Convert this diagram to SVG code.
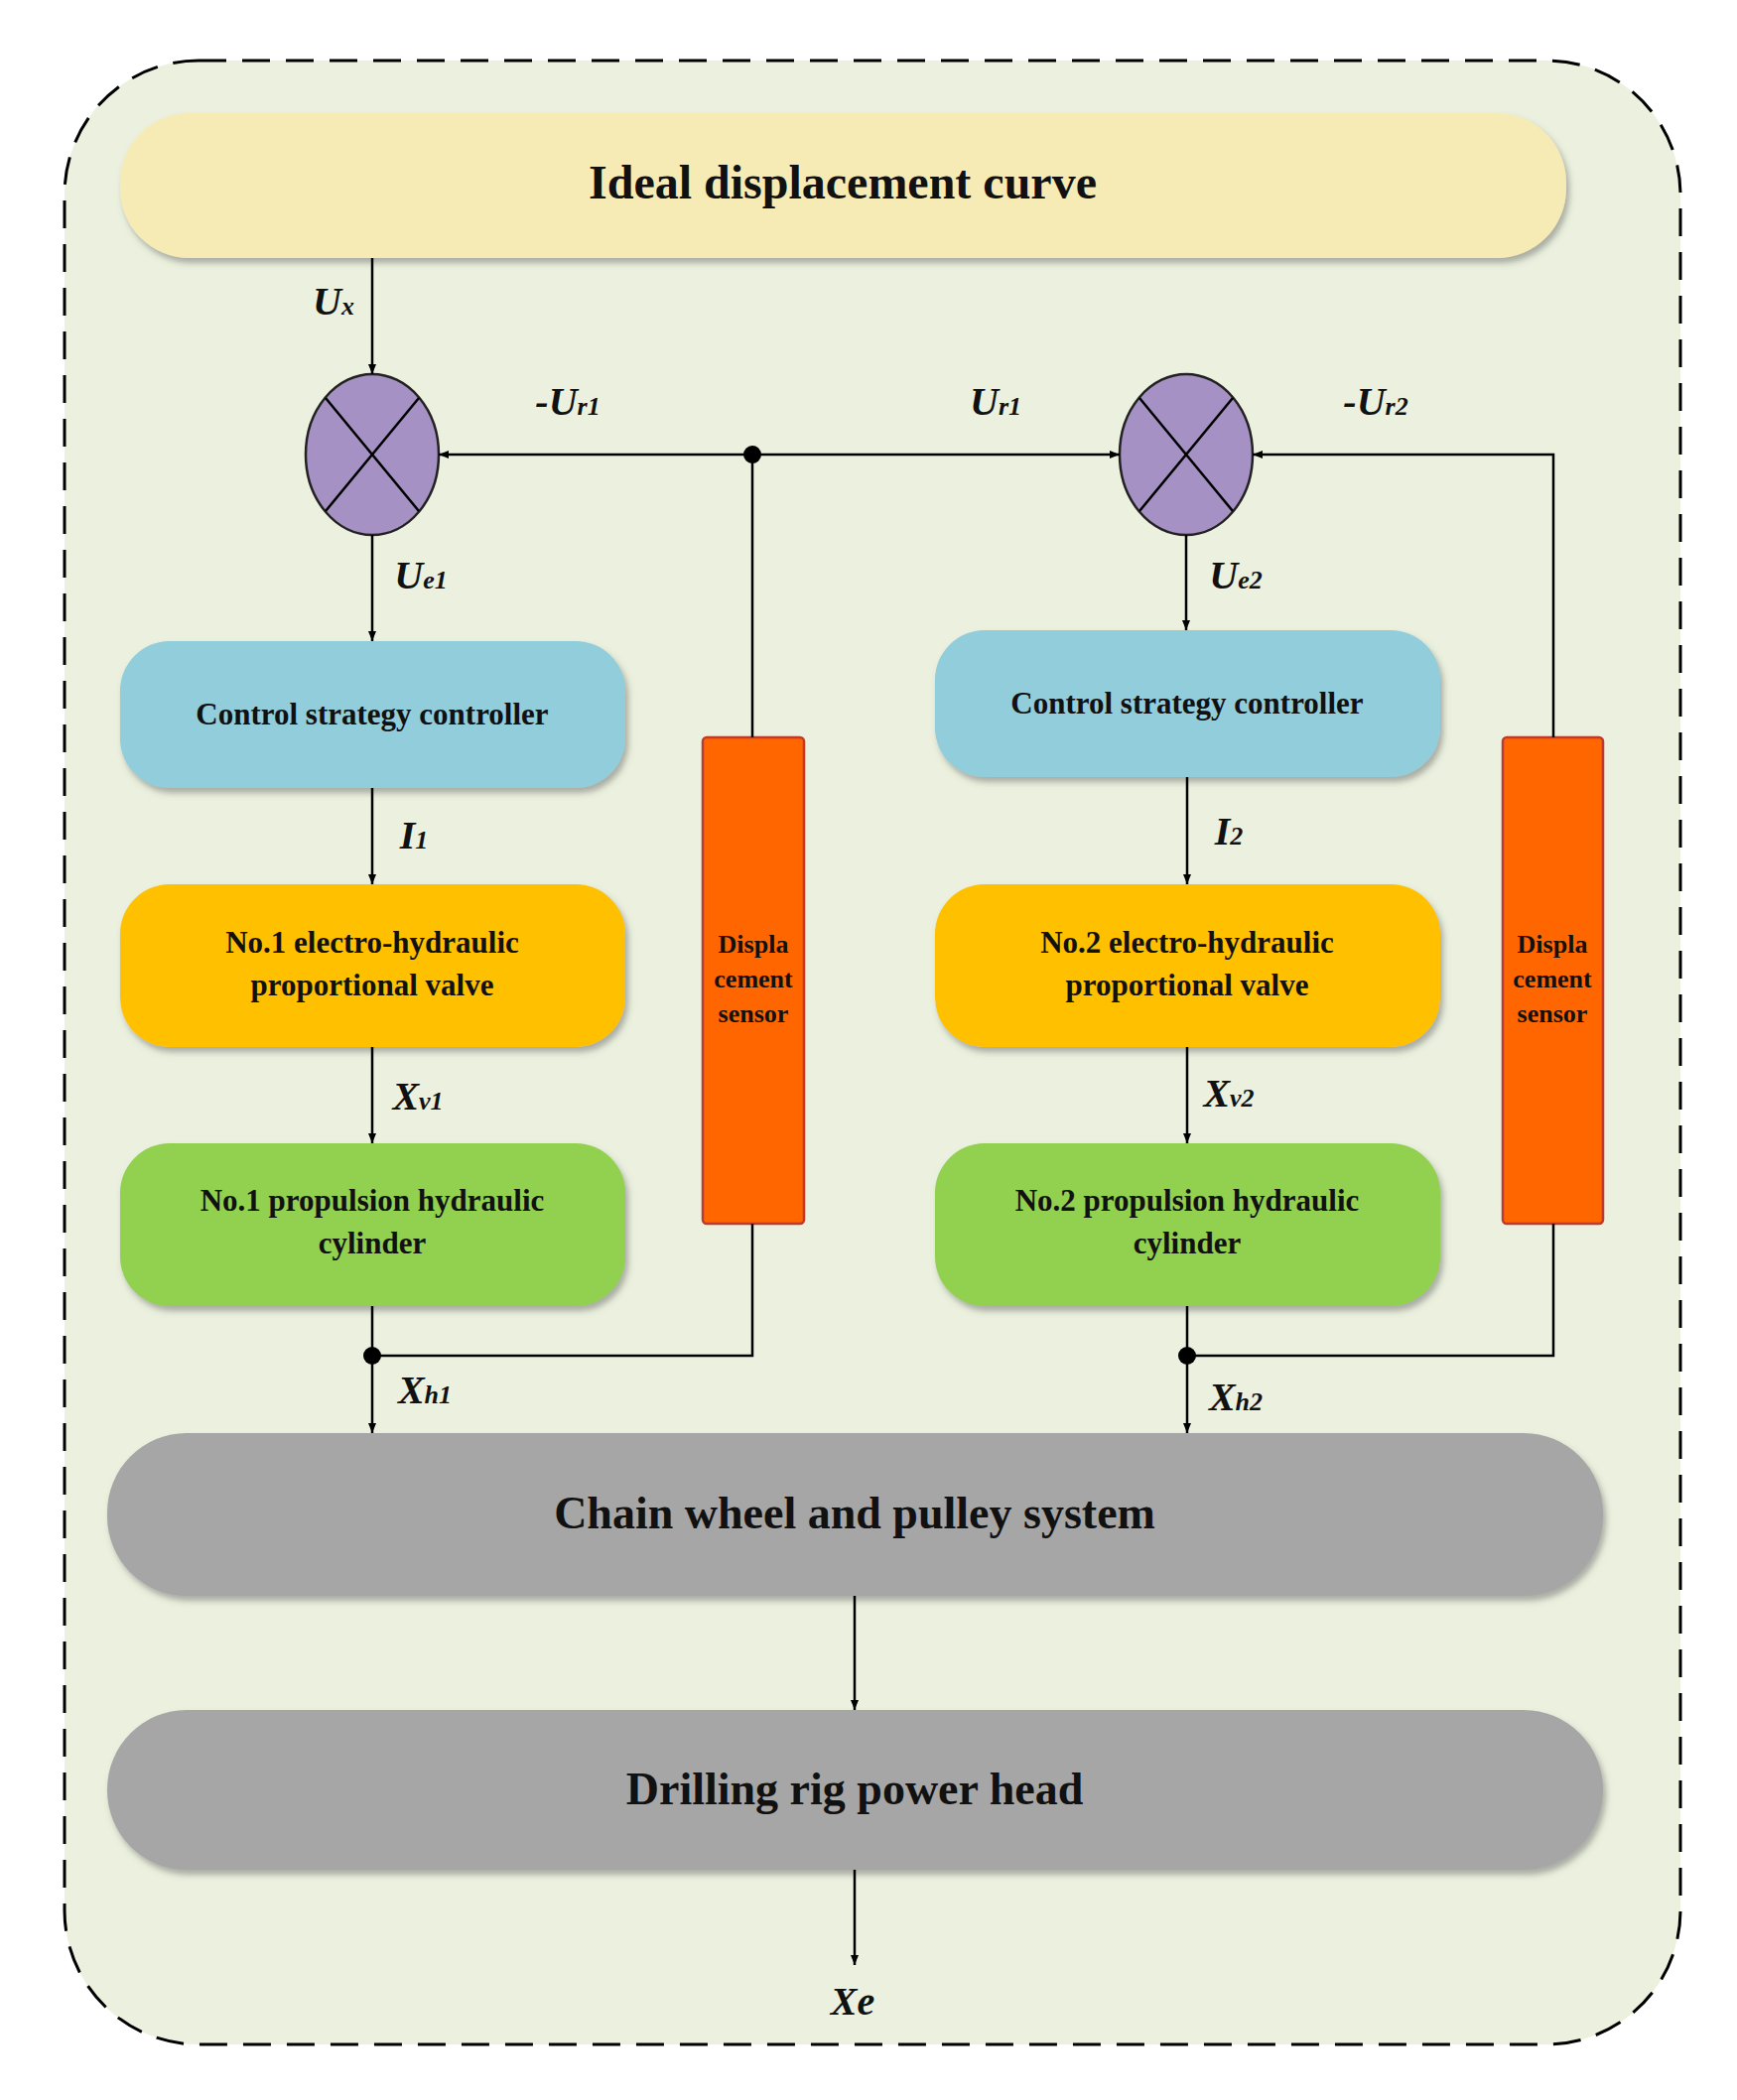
<svg xmlns="http://www.w3.org/2000/svg" width="1750" height="2116" viewBox="0 0 1750 2116">
<defs>
<filter id="sh" x="-5%" y="-10%" width="110%" height="130%"><feDropShadow dx="3" dy="5" stdDeviation="3" flood-color="#666" flood-opacity="0.5"/></filter>
<marker id="ar" viewBox="0 0 10 10" refX="10" refY="5" markerWidth="10" markerHeight="14" markerUnits="userSpaceOnUse" orient="auto"><path d="M0,1 L10,5 L0,9 Z" fill="#000"/></marker>
</defs>
<style>
text{font-family:"Liberation Serif","Times New Roman",serif;font-weight:bold;fill:#111;text-anchor:middle}
.box{filter:url(#sh)}
.ln{stroke:#000;stroke-width:2.5;fill:none}
.lb{font-style:italic;font-size:40px}
.sb{font-size:26px}
.bt{font-size:31px}
</style>
<rect width="1750" height="2116" fill="#fff"/>
<rect x="65" y="61" width="1628" height="1999" rx="135" fill="#EBF1DE" stroke="#000" stroke-width="3" stroke-dasharray="28,16"/>
<g id="ideal"><rect class="box" x="121" y="114" width="1457" height="146" rx="70" fill="#F7EBB5"/><text x="849" y="200" font-size="48">Ideal displacement curve</text></g>
<g id="sum1"><ellipse cx="375" cy="458" rx="67" ry="81" fill="#A591C4" stroke="#222" stroke-width="2.5"/><path class="ln" d="M328,401 L422,515 M422,401 L328,515"/></g>
<g id="sum2"><ellipse cx="1195" cy="458" rx="67" ry="81" fill="#A591C4" stroke="#222" stroke-width="2.5"/><path class="ln" d="M1148,401 L1242,515 M1242,401 L1148,515"/></g>
<g id="ctrl1"><rect class="box" x="121" y="646" width="509" height="148" rx="50" fill="#92CDDC"/><text class="bt" x="375" y="730">Control strategy controller</text></g>
<g id="ctrl2"><rect class="box" x="942" y="635" width="509" height="148" rx="50" fill="#92CDDC"/><text class="bt" x="1196" y="719">Control strategy controller</text></g>
<g id="valve1"><rect class="box" x="121" y="891" width="509" height="164" rx="50" fill="#FFC000"/><text class="bt" x="375" y="960">No.1 electro-hydraulic</text><text class="bt" x="375" y="1003">proportional valve</text></g>
<g id="valve2"><rect class="box" x="942" y="891" width="509" height="164" rx="50" fill="#FFC000"/><text class="bt" x="1196" y="960">No.2 electro-hydraulic</text><text class="bt" x="1196" y="1003">proportional valve</text></g>
<g id="cyl1"><rect class="box" x="121" y="1152" width="509" height="164" rx="50" fill="#92D050"/><text class="bt" x="375" y="1220">No.1 propulsion hydraulic</text><text class="bt" x="375" y="1263">cylinder</text></g>
<g id="cyl2"><rect class="box" x="942" y="1152" width="509" height="164" rx="50" fill="#92D050"/><text class="bt" x="1196" y="1220">No.2 propulsion hydraulic</text><text class="bt" x="1196" y="1263">cylinder</text></g>
<g id="sensor1"><rect x="708" y="743" width="102" height="490" rx="4" fill="#FF6600" stroke="#C0392B" stroke-width="2.5"/><text class="sb" x="759" y="960">Displa</text><text class="sb" x="759" y="995">cement</text><text class="sb" x="759" y="1030">sensor</text></g>
<g id="sensor2"><rect x="1514" y="743" width="101" height="490" rx="4" fill="#FF6600" stroke="#C0392B" stroke-width="2.5"/><text class="sb" x="1564" y="960">Displa</text><text class="sb" x="1564" y="995">cement</text><text class="sb" x="1564" y="1030">sensor</text></g>
<g id="chain"><rect class="box" x="108" y="1444" width="1507" height="164" rx="80" fill="#A6A6A6"/><text x="861" y="1540" font-size="46">Chain wheel and pulley system</text></g>
<g id="head"><rect class="box" x="108" y="1723" width="1507" height="161" rx="80" fill="#A6A6A6"/><text x="861" y="1818" font-size="46">Drilling rig power head</text></g>
<g id="connectors">
<path class="ln" d="M375,260 V377" marker-end="url(#ar)"/>
<path class="ln" d="M375,539 V646" marker-end="url(#ar)"/>
<path class="ln" d="M1195,539 V635" marker-end="url(#ar)"/>
<path class="ln" d="M375,794 V891" marker-end="url(#ar)"/>
<path class="ln" d="M1196,783 V891" marker-end="url(#ar)"/>
<path class="ln" d="M375,1055 V1152" marker-end="url(#ar)"/>
<path class="ln" d="M1196,1055 V1152" marker-end="url(#ar)"/>
<path class="ln" d="M758,743 V458 H442" marker-end="url(#ar)"/>
<path class="ln" d="M758,458 H1128" marker-end="url(#ar)"/>
<path class="ln" d="M1565,743 V458 H1262" marker-end="url(#ar)"/>
<path class="ln" d="M375,1316 V1444" marker-end="url(#ar)"/>
<path class="ln" d="M1196,1316 V1444" marker-end="url(#ar)"/>
<path class="ln" d="M375,1366 H758 V1233"/>
<path class="ln" d="M1196,1366 H1565 V1233"/>
<path class="ln" d="M861,1608 V1723" marker-end="url(#ar)"/>
<path class="ln" d="M861,1884 V1980" marker-end="url(#ar)"/>
<circle cx="758" cy="458" r="9"/><circle cx="375" cy="1366" r="9"/><circle cx="1196" cy="1366" r="9"/>
</g>
<g id="labels">
<text class="lb" x="336" y="317">U<tspan font-size="26">x</tspan></text>
<text class="lb" x="572" y="418">-U<tspan font-size="26">r1</tspan></text>
<text class="lb" x="1003" y="418">U<tspan font-size="26">r1</tspan></text>
<text class="lb" x="1386" y="418">-U<tspan font-size="26">r2</tspan></text>
<text class="lb" x="424" y="593">U<tspan font-size="26">e1</tspan></text>
<text class="lb" x="1245" y="593">U<tspan font-size="26">e2</tspan></text>
<text class="lb" x="417" y="855">I<tspan font-size="26">1</tspan></text>
<text class="lb" x="1238" y="851">I<tspan font-size="26">2</tspan></text>
<text class="lb" x="421" y="1118">X<tspan font-size="26">v1</tspan></text>
<text class="lb" x="1238" y="1115">X<tspan font-size="26">v2</tspan></text>
<text class="lb" x="428" y="1414">X<tspan font-size="26">h1</tspan></text>
<text class="lb" x="1245" y="1421">X<tspan font-size="26">h2</tspan></text>
<text class="lb" x="859" y="2030">Xe</text>
</g>
</svg>
